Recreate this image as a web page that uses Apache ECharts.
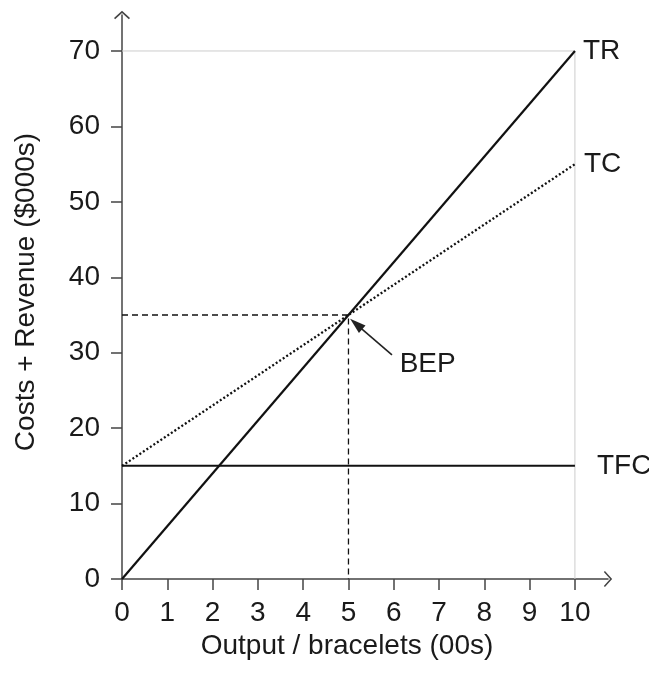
<!DOCTYPE html>
<html>
<head>
<meta charset="utf-8">
<script src="https://cdn.jsdelivr.net/npm/echarts@6/dist/echarts.min.js"></script>
<style>
html,body{margin:0;padding:0;background:#fff;}
#chart{width:649px;height:673px;}
</style>
</head>
<body>
<div id="chart"></div>
<script>
// ---- data ----
var xTicks = [0,1,2,3,4,5,6,7,8,9,10];
var yTicks = [0,10,20,30,40,50,60,70];
var trLine = [[0,0],[10,70]];          // Total Revenue
var tcLine = [[0,15],[10,55]];         // Total Cost
var tfcLine = [[0,15],[10,15]];        // Total Fixed Cost
var bepGuide = [[0,35],[5,35],[5,0]];  // dashed guide to break-even point
var frameLine = [[0,70],[10,70],[10,0]];
var bepArrow = [[5.96,29.7],[5.17,33.8]];
var bepLabel = [[6.12,28.5]];
var seriesNames = ['TR','TC','TFC'];

var FONT = "'Liberation Sans', Arial, sans-serif";
var TXT = '#1a1a1a';
var AX = '#444';
var FS = 28;
var chevron = 'path://M0,0 L10,9 L8.6,10.4 L0,2.6 L-8.6,10.4 L-10,9 Z';

var chart = echarts.init(document.getElementById('chart'));
chart.setOption({
  animation:false,
  backgroundColor:'#fff',
  grid:{left:122,right:41,top:15,bottom:94,containLabel:false},
  xAxis:{
    type:'value', min:0, max:10.73,
    name:'Output / bracelets (00s)', nameLocation:'middle', nameGap:39,
    nameTextStyle:{fontFamily:FONT,fontSize:FS,color:TXT,padding:[0,36,0,0]},
    axisLine:{show:true,lineStyle:{color:AX,width:1.5},symbol:['none',chevron],symbolSize:[16,10]},
    axisTick:{show:true,length:11,inside:false,lineStyle:{color:AX,width:1.5},customValues:xTicks},
    axisLabel:{fontFamily:FONT,fontSize:FS,color:TXT,margin:20,customValues:xTicks},
    splitLine:{show:false}
  },
  yAxis:{
    type:'value', min:0, max:74.77,
    name:'Costs + Revenue ($000s)', nameLocation:'middle', nameGap:82, nameRotate:90,
    nameTextStyle:{fontFamily:FONT,fontSize:FS,color:TXT,padding:[0,0,0,10]},
    axisLine:{show:true,lineStyle:{color:AX,width:1.5},symbol:['none',chevron],symbolSize:[16,10]},
    axisTick:{show:true,length:11,inside:false,lineStyle:{color:AX,width:1.5},customValues:yTicks},
    axisLabel:{fontFamily:FONT,fontSize:FS,color:TXT,margin:22,customValues:yTicks},
    splitLine:{show:false}
  },
  series:[
    {type:'line',data:frameLine,symbol:'none',silent:true,z:1,
     lineStyle:{color:'#cccccc',width:1}},
    {type:'line',data:bepGuide,symbol:'none',z:2,
     lineStyle:{color:'#111',width:1.3,type:[6,4]}},
    {type:'line',name:seriesNames[2],data:tfcLine,symbol:'none',z:3,
     lineStyle:{color:'#111',width:2},
     endLabel:{show:true,formatter:seriesNames[2],distance:22,fontFamily:FONT,fontSize:FS,color:TXT}},
    {type:'line',name:seriesNames[1],data:tcLine,symbol:'none',z:3,
     lineStyle:{color:'#111',width:2.3,type:[2,2.2]},
     endLabel:{show:true,formatter:seriesNames[1],distance:9,fontFamily:FONT,fontSize:FS,color:TXT}},
    {type:'line',name:seriesNames[0],data:trLine,symbol:'none',z:4,
     lineStyle:{color:'#111',width:2.2},
     endLabel:{show:true,formatter:seriesNames[0],distance:8,fontFamily:FONT,fontSize:FS,color:TXT}},
    {type:'line',data:[],symbol:'none',
     markLine:{silent:true,symbol:['none','triangle'],symbolSize:[10,16],
       label:{show:false},
       lineStyle:{color:'#222',width:1.6,type:'solid',opacity:1},
       data:[[{coord:bepArrow[0]},{coord:bepArrow[1]}]]}},
    {type:'scatter',data:bepLabel,symbolSize:1,silent:true,
     itemStyle:{color:'rgba(0,0,0,0)'},
     label:{show:true,position:'right',distance:0,formatter:'BEP',fontFamily:FONT,fontSize:FS,color:TXT,opacity:1}}
  ]
});
</script>
</body>
</html>
